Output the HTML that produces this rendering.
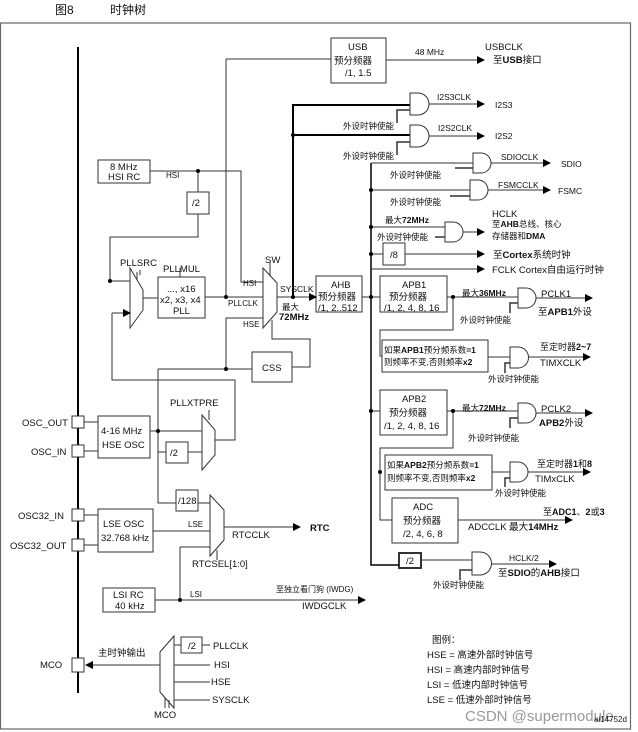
<!DOCTYPE html>
<html><head><meta charset="utf-8"><style>
body{margin:0;background:#fff}
svg{display:block}
text{font-family:"Liberation Sans","Noto Sans CJK SC",sans-serif;font-size:9.5px;fill:#111}
.b{font-weight:bold}
</style></head><body>
<svg width="638" height="732" viewBox="0 0 638 732" xmlns="http://www.w3.org/2000/svg">
<defs><marker id="a" markerWidth="8" markerHeight="8" refX="7" refY="4" orient="auto" markerUnits="userSpaceOnUse"><path d="M0,0 L8,4 L0,8z" fill="#000"/></marker></defs>
<text x="55" y="14" style="font-size:12px">图8</text><text x="110" y="14" style="font-size:12px">时钟树</text>
<rect x="0.5" y="23" width="630" height="706" fill="none" stroke="#666" stroke-width="1.2"/>
<g stroke="#333" fill="none" stroke-width="1">
<line x1="78" y1="47" x2="78" y2="693" stroke-width="2" stroke="#000"/>
<!-- pins -->
<rect x="72" y="416" width="12" height="12" fill="#fff"/><rect x="72" y="445" width="12" height="12" fill="#fff"/>
<rect x="72" y="509" width="12" height="12" fill="#fff"/><rect x="72" y="539" width="12" height="12" fill="#fff"/>
<rect x="72" y="658" width="12" height="14" fill="#fff"/>
<path d="M84 422H98M84 451H98M84 515H98M84 545H98"/>
<!-- boxes -->
<rect x="98" y="160" width="52" height="23"/><rect x="187" y="192" width="22" height="22"/>
<rect x="158" y="277" width="47" height="41"/><rect x="252" y="352" width="40" height="30"/>
<rect x="98" y="416" width="52" height="42"/><rect x="166" y="442" width="22" height="21"/>
<rect x="176" y="490" width="22" height="21"/><rect x="98" y="509" width="55" height="43"/>
<rect x="103" y="588" width="52" height="24"/><rect x="181" y="637" width="21" height="16"/>
<rect x="331" y="38" width="55" height="45"/><rect x="316" y="276" width="46" height="36"/>
<rect x="380" y="276" width="67" height="36"/><rect x="383" y="243" width="22" height="22"/>
<rect x="382" y="340" width="106" height="32"/><rect x="380" y="390" width="67" height="45"/>
<rect x="385" y="455" width="107" height="35"/><rect x="392" y="498" width="66" height="45"/>
<rect x="399" y="553" width="22" height="15" stroke-width="2"/>
<!-- muxes -->
<path d="M130 268L143 290V310L130 328Z"/><path d="M263 268L277 283V312L263 328Z"/>
<path d="M202 415L215 430V455L202 470Z"/><path d="M210 495L224 510V540L210 556Z"/>
<path d="M174 636L160 652V692L174 708Z"/>
<path d="M137 272V280M270 262V276M209 410V420M217 550V560M165 698V708M169 700V708M140 270V275M180 268V277"/>
<!-- left wiring -->
<path d="M150 171H241V282H263M198 171V192M198 214V237H110V281H130"/>
<path d="M143 298H158M205 297H263"/>
<path d="M226 59H331M226 59V297"/>
<path d="M112 313V380H235V440H215"/>
<path d="M226 318H263M226 318V369M158 369H252M158 369V503H176M198 503H210"/>
<path d="M292 367H310V339H272V320"/>
<path d="M150 431H202M158 452H166M188 452H202"/>
<path d="M153 531H210M180 547H210M180 547V600"/>
<path d="M181 645H174M202 645H210M174 665H210M174 682H210M174 700H210"/>
<path d="M277 297H316" marker-end="url(#a)"/>
<path d="M112 313H130" marker-end="url(#a)"/>
<path d="M224 527H300" marker-end="url(#a)"/>
<path d="M155 600H365" marker-end="url(#a)"/>
<path d="M160 665H86" marker-end="url(#a)"/>
<path d="M386 60H484" marker-end="url(#a)"/>
<!-- right wiring -->
<path d="M293 297V105H410M293 135H410" stroke-width="2" stroke="#000"/>
<path d="M371 163V565H399" stroke-width="1.5" stroke="#000"/>
<path d="M421 560H472"/>
<path d="M371 163H473M371 190H470M371 227H445M371 254H383M362 297H380M447 297H518M371 411H380M447 411H518"/>
<path d="M405 254H484" marker-end="url(#a)"/><path d="M371 269H484" marker-end="url(#a)"/>
<path d="M453 297V330H380V356H382M453 411V448H380V520H392"/>
<path d="M488 357H510M492 472H510"/>
<!-- gates -->
<path d="M410 93H418A11 11 0 0 1 418 115H410Z"/><path d="M410 125H418A11 11 0 0 1 418 147H410Z"/>
<path d="M473 153H481A10 10 0 0 1 481 173H473Z"/><path d="M470 180H478A10 10 0 0 1 478 200H470Z"/>
<path d="M445 222H453A10 10 0 0 1 453 242H445Z"/><path d="M518 288H526A10 10 0 0 1 526 308H518Z"/>
<path d="M510 347H518A10.5 10.5 0 0 1 518 368H510Z"/><path d="M518 403H526A10 10 0 0 1 526 423H518Z"/>
<path d="M510 462H518A10 10 0 0 1 518 482H510Z"/><path d="M472 552H480A11.5 11.5 0 0 1 480 575H472Z"/>
<path d="M410 110H397V123M410 142H397V155M473 168H455M470 196H450M445 237H435M518 303H510V313M510 363H505V373M518 418H510V428M510 478H505V487M472 570H460V580" stroke-width="1.5"/>
<path d="M429 104H484" marker-end="url(#a)"/><path d="M429 136H484" marker-end="url(#a)"/>
<path d="M491 163H550" marker-end="url(#a)"/><path d="M488 190H550" marker-end="url(#a)"/>
<path d="M463 232H484" marker-end="url(#a)"/><path d="M536 298H592" marker-end="url(#a)"/>
<path d="M528 357H590" marker-end="url(#a)"/><path d="M536 413H592" marker-end="url(#a)"/>
<path d="M528 472H590" marker-end="url(#a)"/><path d="M458 520H572" marker-end="url(#a)"/>
<path d="M492 564H556" marker-end="url(#a)"/>
</g>
<g fill="#000">
<circle cx="198" cy="171" r="2"/><circle cx="110" cy="281" r="2"/><circle cx="226" cy="297" r="2"/><circle cx="293" cy="297" r="2"/><circle cx="293" cy="135" r="2"/><circle cx="226" cy="369" r="2"/><circle cx="158" cy="431" r="2"/><circle cx="180" cy="600" r="2"/><circle cx="371" cy="190" r="2"/><circle cx="371" cy="227" r="2"/><circle cx="371" cy="254" r="2"/><circle cx="371" cy="297" r="2"/><circle cx="453" cy="297" r="2"/><circle cx="371" cy="411" r="2"/><circle cx="453" cy="411" r="2"/><circle cx="380" cy="472" r="2"/>
</g>
<g>
<text x="110" y="170">8 MHz</text><text x="108" y="180">HSI RC</text><text x="166" y="178" style="font-size:8px">HSI</text><text x="192" y="206">/2</text>
<text x="120" y="266">PLLSRC</text><text x="163" y="272">PLLMUL</text><text x="167" y="292">..., x16</text><text x="160" y="303">x2, x3, x4</text><text x="173" y="314">PLL</text>
<text x="265" y="263">SW</text><text x="243" y="286" style="font-size:8px">HSI</text><text x="228" y="306" style="font-size:8px">PLLCLK</text><text x="243" y="327" style="font-size:8px">HSE</text>
<text x="280" y="292" style="font-size:8.5px">SYSCLK</text><text x="282" y="310" style="font-size:8.5px">最大</text><text x="279" y="320" class="b">72MHz</text>
<text x="262" y="371">CSS</text><text x="170" y="406">PLLXTPRE</text>
<text x="101" y="434">4-16 MHz</text><text x="102" y="448">HSE OSC</text><text x="170" y="456">/2</text>
<text x="22" y="426">OSC_OUT</text><text x="31" y="455">OSC_IN</text><text x="18" y="519">OSC32_IN</text><text x="10" y="549">OSC32_OUT</text>
<text x="178" y="504">/128</text><text x="103" y="527">LSE OSC</text><text x="101" y="541">32.768 kHz</text><text x="188" y="527" style="font-size:8px">LSE</text>
<text x="232" y="538">RTCCLK</text><text x="310" y="531" class="b">RTC</text><text x="192" y="567">RTCSEL[1:0]</text>
<text x="113" y="598">LSI RC</text><text x="115" y="609">40 kHz</text><text x="190" y="597" style="font-size:8px">LSI</text>
<text x="276" y="592" style="font-size:8px">至独立看门狗 (IWDG)</text><text x="302" y="609">IWDGCLK</text>
<text x="40" y="668">MCO</text><text x="98" y="656">主时钟输出</text><text x="188" y="649">/2</text>
<text x="213" y="649">PLLCLK</text><text x="214" y="668">HSI</text><text x="211" y="685">HSE</text><text x="212" y="703">SYSCLK</text><text x="154" y="718">MCO</text>
<text x="348" y="50">USB</text><text x="334" y="64">预分频器</text><text x="345" y="76">/1, 1.5</text>
<text x="415" y="55" style="font-size:8.5px">48 MHz</text><text x="485" y="50">USBCLK</text><text x="493" y="63">至<tspan class="b">USB</tspan>接口</text>
<text x="437" y="100" style="font-size:8.5px">I2S3CLK</text><text x="495" y="108" style="font-size:8.5px">I2S3</text>
<text x="343" y="129" style="font-size:8.5px">外设时钟使能</text>
<text x="438" y="131" style="font-size:8.5px">I2S2CLK</text><text x="495" y="139" style="font-size:8.5px">I2S2</text>
<text x="343" y="159" style="font-size:8.5px">外设时钟使能</text>
<text x="501" y="160" style="font-size:8.5px">SDIOCLK</text><text x="561" y="167" style="font-size:8.5px">SDIO</text>
<text x="390" y="178" style="font-size:8.5px">外设时钟使能</text>
<text x="498" y="188" style="font-size:8.5px">FSMCCLK</text><text x="558" y="194" style="font-size:8.5px">FSMC</text>
<text x="390" y="205" style="font-size:8.5px">外设时钟使能</text>
<text x="385" y="223" style="font-size:8.5px">最大<tspan class="b">72MHz</tspan></text><text x="377" y="240" style="font-size:8.5px">外设时钟使能</text>
<text x="492" y="217">HCLK</text><text x="492" y="227" style="font-size:8.5px">至<tspan class="b">AHB</tspan>总线、核心</text><text x="492" y="239" style="font-size:8.5px">存储器和<tspan class="b">DMA</tspan></text>
<text x="390" y="258">/8</text><text x="493" y="258">至<tspan class="b">Cortex</tspan>系统时钟</text><text x="492" y="273">FCLK Cortex自由运行时钟</text>
<text x="331" y="288">AHB</text><text x="318" y="300">预分频器</text><text x="318" y="311">/1, 2..512</text>
<text x="402" y="288">APB1</text><text x="389" y="300">预分频器</text><text x="384" y="311">/1, 2, 4, 8, 16</text>
<text x="462" y="296" style="font-size:8.5px">最大<tspan class="b">36MHz</tspan></text><text x="541" y="297">PCLK1</text><text x="538" y="315">至<tspan class="b">APB1</tspan>外设</text>
<text x="460" y="323" style="font-size:8.5px">外设时钟使能</text>
<text x="384" y="353" style="font-size:8.5px">如果<tspan class="b">APB1</tspan>预分频系数<tspan class="b">=1</tspan></text><text x="384" y="365" style="font-size:8.5px">则频率不变,否则频率<tspan class="b">x2</tspan></text>
<text x="540" y="350" style="font-size:9px">至定时器<tspan class="b">2~7</tspan></text><text x="540" y="366">TIMXCLK</text>
<text x="488" y="382" style="font-size:8.5px">外设时钟使能</text>
<text x="402" y="402">APB2</text><text x="389" y="416">预分频器</text><text x="384" y="429">/1, 2, 4, 8, 16</text>
<text x="462" y="411" style="font-size:8.5px">最大<tspan class="b">72MHz</tspan></text><text x="541" y="412">PCLK2</text><text x="539" y="426"><tspan class="b">APB2</tspan>外设</text>
<text x="468" y="441" style="font-size:8.5px">外设时钟使能</text>
<text x="387" y="468" style="font-size:8.5px">如果<tspan class="b">APB2</tspan>预分频系数<tspan class="b">=1</tspan></text><text x="387" y="481" style="font-size:8.5px">则频率不变,否则频率<tspan class="b">x2</tspan></text>
<text x="537" y="467" style="font-size:9px">至定时器<tspan class="b">1</tspan>和<tspan class="b">8</tspan></text><text x="535" y="482">TIMxCLK</text>
<text x="495" y="496" style="font-size:8.5px">外设时钟使能</text>
<text x="413" y="510">ADC</text><text x="403" y="524">预分频器</text><text x="403" y="537">/2, 4, 6, 8</text>
<text x="543" y="515" style="font-size:9px">至<tspan class="b">ADC1</tspan>、<tspan class="b">2</tspan>或<tspan class="b">3</tspan></text><text x="468" y="530">ADCCLK  最大<tspan class="b">14MHz</tspan></text>
<text x="406" y="564">/2</text><text x="509" y="561" style="font-size:8.5px">HCLK/2</text><text x="498" y="576">至<tspan class="b">SDIO</tspan>的<tspan class="b">AHB</tspan>接口</text>
<text x="433" y="588" style="font-size:8.5px">外设时钟使能</text>
<text x="432" y="643">图例：</text><text x="427" y="658">HSE = 高速外部时钟信号</text><text x="427" y="673">HSI = 高速内部时钟信号</text>
<text x="427" y="688">LSI = 低速内部时钟信号</text><text x="427" y="703">LSE = 低速外部时钟信号</text>
<text x="465" y="721" style="font-size:15px;fill:#999">CSDN @supermodule</text><text x="594" y="722" style="font-size:8px">ai14752d</text>
</g>
</svg>
</body></html>
